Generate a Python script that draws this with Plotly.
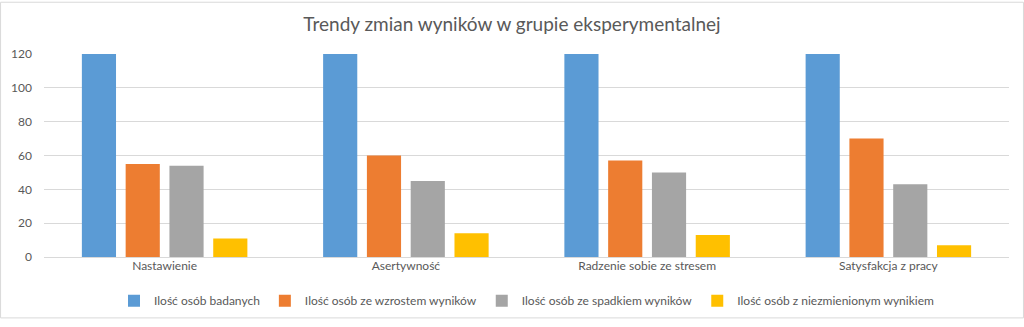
import plotly.graph_objects as go

categories = ["Nastawienie", "Asertywność", "Radzenie sobie ze stresem", "Satysfakcja z pracy"]
series_names = [
    "Ilość osób badanych",
    "Ilość osób ze wzrostem wyników",
    "Ilość osób ze spadkiem wyników",
    "Ilość osób z niezmienionym wynikiem",
]
badanych = [120, 120, 120, 120]
wzrost = [55, 60, 57, 70]
spadek = [54, 45, 50, 43]
niezmienione = [11, 14, 13, 7]
y_ticks = [0, 20, 40, 60, 80, 100, 120]

colors = ["#5B9BD5", "#ED7D31", "#A5A5A5", "#FFC000"]
values = [badanych, wzrost, spadek, niezmienione]

fig = go.Figure()
for name, vals, col in zip(series_names, values, colors):
    fig.add_trace(go.Bar(x=categories, y=vals, name=name, marker_color=col, marker_line_width=0))

font_family = "Lato, Open Sans, sans-serif"
fig.update_layout(
    width=1024, height=327,
    margin=dict(l=44, r=15, t=54, b=63),
    paper_bgcolor="white", plot_bgcolor="white",
    barmode="group", bargap=0.274, bargroupgap=0.22,
    font=dict(family=font_family, size=12, color="#595959"),
    title=dict(text="Trendy zmian wyników w grupie eksperymentalnej", x=0.5, xanchor="center",
               y=0.925, yanchor="middle", font=dict(size=19, color="#595959", family=font_family)),
    showlegend=True,
    legend=dict(orientation="h", x=0.5, xanchor="center", y=-0.215, yanchor="middle",
                font=dict(size=12, color="#595959"), itemwidth=30, traceorder="normal"),
    xaxis=dict(showgrid=False, showline=False, ticks="", tickfont=dict(size=12, color="#595959")),
    yaxis=dict(range=[0, 120], tickvals=y_ticks, showgrid=True, gridcolor="#D9D9D9", gridwidth=1,
               zeroline=True, zerolinecolor="#D9D9D9", zerolinewidth=1, showline=False, ticks="",
               ticklabelstandoff=11, tickfont=dict(size=12, color="#595959")),
    shapes=[dict(type="rect", xref="paper", yref="paper", x0=-0.045, x1=1.0150, y0=-0.30, y1=1.255,
                 line=dict(color="#D9D9D9", width=1), fillcolor="rgba(0,0,0,0)", layer="below")],
)
fig.write_html("out.html")
